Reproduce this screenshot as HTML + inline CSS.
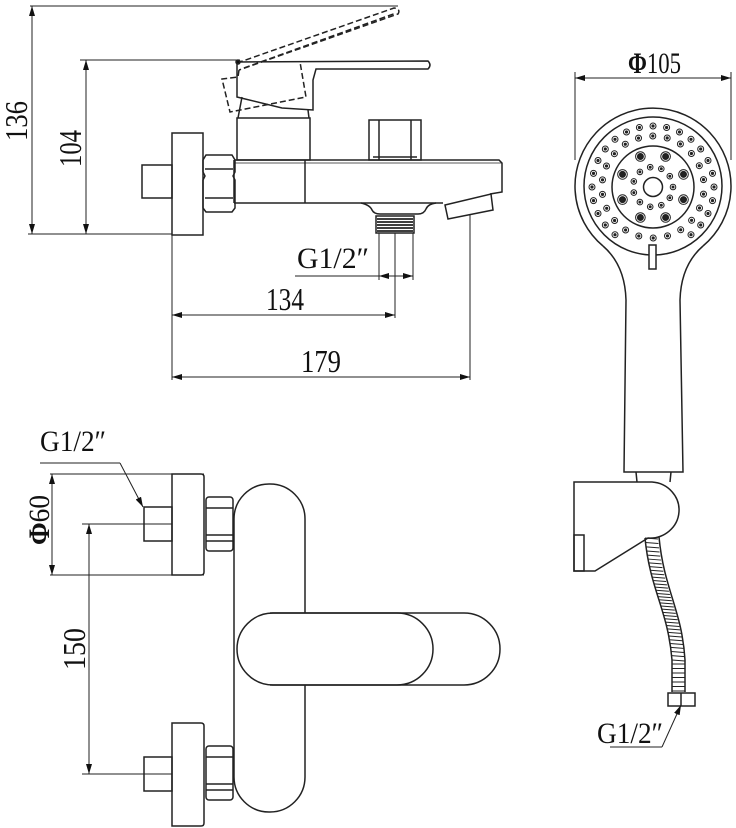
<!DOCTYPE html>
<html><head><meta charset="utf-8"><style>
html,body{margin:0;padding:0;background:#fff;width:736px;height:828px;overflow:hidden}
svg{display:block}
text{font-family:"Liberation Serif",serif;fill:#111}
</style></head><body>
<svg id="s" width="736" height="828" viewBox="0 0 736 828" xmlns="http://www.w3.org/2000/svg">
<defs>
<marker id="ar" viewBox="0 0 10 6" refX="10" refY="3" markerWidth="10" markerHeight="6" orient="auto-start-reverse" markerUnits="userSpaceOnUse"><path d="M0,0 L10,3 L0,6 Z" fill="#111"/></marker>
</defs>
<g fill="none" stroke="#222" stroke-width="1.5">
<line x1="30" y1="6" x2="398" y2="6" stroke-width="1"/>
<line x1="32" y1="6" x2="32" y2="234" stroke-width="1" marker-start="url(#ar)" marker-end="url(#ar)"/>
<line x1="80" y1="60" x2="240" y2="60" stroke-width="1"/>
<line x1="86" y1="60" x2="86" y2="234" stroke-width="1" marker-start="url(#ar)" marker-end="url(#ar)"/>
<line x1="28" y1="234" x2="172" y2="234" stroke-width="1"/>
<g stroke-dasharray="6,3">
<path d="M237,63 L394,8 Q401,9 398,14 L239,70"/>
<path d="M239,70 L238,77 L222,79 L230,112 L306,97 L300,62"/>
<path d="M244,68 L396,13"/>
</g>
<path d="M237,62 L428,61 Q432,65 428,69 L316,69 L313,80 L313,110 L282,108 L237,97 Z"/>
<circle cx="238" cy="62" r="2" fill="#111"/>
<path d="M242,97 L238,118 M308,110 L309,118"/>
<rect x="237" y="118" width="73" height="42"/>
<rect x="369" y="120" width="52" height="40"/>
<line x1="379" y1="120" x2="379" y2="160"/><line x1="411" y1="120" x2="411" y2="160"/>
<line x1="373" y1="157" x2="417" y2="157"/>
<path d="M234,160 L499,160 L502,163 L502,192 L490,194"/>
<line x1="234" y1="163" x2="502" y2="163" stroke-width="0.8"/>
<line x1="234" y1="203" x2="443" y2="203"/>
<line x1="234" y1="160" x2="234" y2="203"/>
<line x1="305" y1="160" x2="305" y2="203"/>
<path d="M361,203 Q370,205 372,210 Q374,214 380,214 L418,214 Q424,214 426,209 Q428,204 436,203"/>
<path d="M445,205 L491,194 L493,210 L448,219 Z"/>
<rect x="376" y="216" width="38" height="17"/>
<g stroke-width="1.8"><line x1="377" y1="219" x2="413" y2="219"/><line x1="377" y1="222" x2="413" y2="222"/><line x1="377" y1="225" x2="413" y2="225"/><line x1="377" y1="228" x2="413" y2="228"/><line x1="377" y1="231" x2="413" y2="231"/></g>
<rect x="172" y="133" width="31" height="102"/>
<rect x="142" y="165" width="30" height="33"/>
<path d="M206,155 L232,155 L235,160 L235,172 L233,176 L235,180 L235,208 L232,212 L206,212 L203,208 L203,180 L205,176 L203,172 L203,160 Z"/>
<line x1="205" y1="169" x2="233" y2="169"/><line x1="205" y1="198" x2="233" y2="198"/>
<line x1="379" y1="233" x2="379" y2="280" stroke-width="1"/>
<line x1="413" y1="233" x2="413" y2="280" stroke-width="1"/>
<line x1="295" y1="276" x2="413" y2="276" stroke-width="1"/>
<line x1="379" y1="276" x2="413" y2="276" stroke-width="1" marker-start="url(#ar)" marker-end="url(#ar)"/>
<line x1="395" y1="233" x2="395" y2="318" stroke-width="1"/>
<line x1="172" y1="235" x2="172" y2="380" stroke-width="1"/>
<line x1="172" y1="315" x2="395" y2="315" stroke-width="1" marker-start="url(#ar)" marker-end="url(#ar)"/>
<line x1="470" y1="215" x2="470" y2="380" stroke-width="1"/>
<line x1="172" y1="377" x2="470" y2="377" stroke-width="1" marker-start="url(#ar)" marker-end="url(#ar)"/>

<line x1="40" y1="463" x2="120" y2="463" stroke-width="1"/>
<line x1="120" y1="463" x2="143" y2="507" stroke-width="1" marker-end="url(#ar)"/>
<line x1="50" y1="474" x2="204" y2="474" stroke-width="1"/>
<line x1="50" y1="575" x2="204" y2="575" stroke-width="1"/>
<line x1="52" y1="474" x2="52" y2="575" stroke-width="1" marker-start="url(#ar)" marker-end="url(#ar)"/>
<path d="M172,474 L201,474 Q204,474 204,477 L204,572 Q204,575 201,575 L172,575 Z"/>
<rect x="144" y="507" width="28" height="34"/>
<line x1="82" y1="524" x2="172" y2="524" stroke-width="1"/>
<line x1="89" y1="524" x2="89" y2="774" stroke-width="1" marker-start="url(#ar)" marker-end="url(#ar)"/>
<line x1="82" y1="774" x2="172" y2="774" stroke-width="1"/>
<rect x="206" y="497" width="27" height="54" rx="3"/>
<line x1="206" y1="508" x2="233" y2="508"/><line x1="206" y1="535" x2="233" y2="535"/><line x1="206" y1="541" x2="233" y2="541"/>
<path d="M172,723 L201,723 Q204,723 204,726 L204,823 Q204,826 201,826 L172,826 Z"/>
<rect x="144" y="757" width="28" height="34"/>
<rect x="206" y="746" width="27" height="54" rx="3"/>
<line x1="206" y1="757" x2="233" y2="757"/><line x1="206" y1="784" x2="233" y2="784"/><line x1="206" y1="790" x2="233" y2="790"/>
<rect x="234" y="484" width="71" height="328" rx="35" ry="35"/>
<rect x="237" y="613" width="263" height="72" rx="36" ry="36" fill="#fff"/>
<path d="M270,613 L397,613 A36,36 0 0 1 397,685 L270,685"/>

<line x1="575" y1="78" x2="731" y2="78" stroke-width="1" marker-start="url(#ar)" marker-end="url(#ar)"/>
<line x1="575" y1="72" x2="575" y2="160" stroke-width="1"/>
<line x1="731" y1="72" x2="731" y2="160" stroke-width="1"/>
<path d="M603,246 A78,78 0 1 1 703,246"/>
<path d="M603,246 Q625,265 626,300 L624,472 L683,472 L680,300 Q681,265 703,246"/>
<circle cx="653" cy="186" r="69"/>
<circle cx="653" cy="187" r="41"/>
<circle cx="653" cy="187" r="9.5"/>
<rect x="649" y="245" width="7" height="24" fill="#fff"/>
<path d="M636,472 L637,482 M671,472 L670,482"/>
<g id="dots" stroke-width="1"></g>
<path d="M574,482 L652,482 A29,28 0 0 1 648,538 L595,571 L574,571 Z"/>
<rect x="574" y="535" width="10" height="36"/>
<path d="M645,538 C650,590 668,610 672,660 L672,692"/>
<path d="M659,537 C664,590 682,610 685,660 L685,692"/>
<g id="hose" stroke-width="1"></g>
<rect x="668" y="693" width="27" height="13"/>
<line x1="681" y1="693" x2="681" y2="706"/>
<line x1="610" y1="747" x2="662" y2="747" stroke-width="1"/>
<line x1="662" y1="747" x2="681" y2="705" stroke-width="1" marker-end="url(#ar)"/>
</g>
<g stroke="none">
<text x="266" y="310" font-size="32" textLength="38" lengthAdjust="spacingAndGlyphs">134</text>
<text x="301" y="372" font-size="32" textLength="40" lengthAdjust="spacingAndGlyphs">179</text>
<text x="297" y="268" font-size="30" textLength="72" lengthAdjust="spacingAndGlyphs">G1/2″</text>
<text x="40" y="451" font-size="30" textLength="66" lengthAdjust="spacingAndGlyphs">G1/2″</text>
<text x="597" y="743" font-size="30" textLength="66" lengthAdjust="spacingAndGlyphs">G1/2″</text>
<text x="628" y="73" font-size="30" textLength="53" lengthAdjust="spacingAndGlyphs"><tspan font-weight="bold">Φ</tspan>105</text>
<text transform="translate(27,141) rotate(-90)" font-size="32" textLength="40" lengthAdjust="spacingAndGlyphs">136</text>
<text transform="translate(81,167) rotate(-90)" font-size="32" textLength="37" lengthAdjust="spacingAndGlyphs">104</text>
<text transform="translate(49,545) rotate(-90)" font-size="30" textLength="50" lengthAdjust="spacingAndGlyphs"><tspan font-weight="bold">Φ</tspan>60</text>
<text transform="translate(85,670) rotate(-90)" font-size="32" textLength="42" lengthAdjust="spacingAndGlyphs">150</text>
</g>
</svg>
<script>
(function(){
var ns="http://www.w3.org/2000/svg",g=document.getElementById("dots"),cx=653,cy=187;
function c(x,y,r,f){var e=document.createElementNS(ns,"circle");e.setAttribute("cx",x.toFixed(1));e.setAttribute("cy",y.toFixed(1));e.setAttribute("r",r);if(f)e.setAttribute("fill",f);g.appendChild(e);}
function ring(R,n,off,r,inner){for(var i=0;i<n;i++){var a=(off+i*360/n)*Math.PI/180,x=cx+R*Math.cos(a),y=cy+R*Math.sin(a);if(y>240)continue;c(x,y,r);if(inner)c(x,y,inner,"#222");}}
ring(61,28,0,3,1.1);ring(51,22,8,3,1.1);ring(20,11,0,2.8,1);ring(33,8,22.5,4.8,2.4);
for(var i=0;i<8;i++){var a=(22.5+i*45)*Math.PI/180;c(cx+33*Math.cos(a),cy+33*Math.sin(a),3);}
var h=document.getElementById("hose");
for(var t=0;t<=1.0001;t+=1/34){var u=1-t;
var y=538*u*u*u+3*590*u*u*t+3*610*u*t*t+660*t*t*t, x=645*u*u*u+3*650*u*u*t+3*668*u*t*t+672*t*t*t;
var l=document.createElementNS(ns,"line");l.setAttribute("x1",x);l.setAttribute("y1",y);l.setAttribute("x2",x+13);l.setAttribute("y2",y+1);h.appendChild(l);}
for(var y=664;y<692;y+=4.5){var l=document.createElementNS(ns,"line");l.setAttribute("x1",672);l.setAttribute("y1",y);l.setAttribute("x2",685);l.setAttribute("y2",y);h.appendChild(l);}
})();
</script>
</body></html>
